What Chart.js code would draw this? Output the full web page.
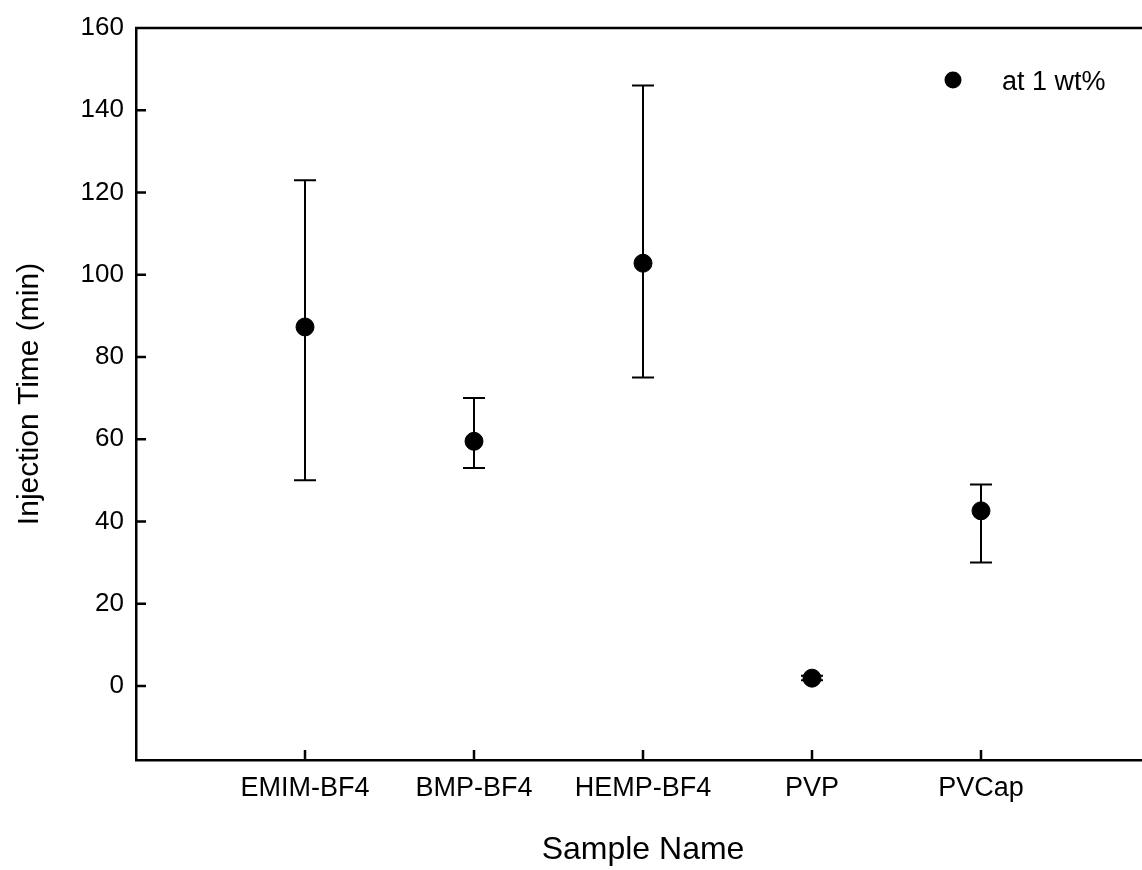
<!DOCTYPE html>
<html>
<head>
<meta charset="utf-8">
<script src="https://cdn.jsdelivr.net/npm/chart.js@4.4.1/dist/chart.umd.min.js"></script>
<style>
  html, body { margin:0; padding:0; background:#fff; overflow:hidden; }
  #wrap { width:1160px; height:870px; }
</style>
</head>
<body>
<div id="wrap"><canvas id="chart" width="1160" height="870"></canvas></div>
<script>
// data
const samples = ['EMIM-BF4', 'BMP-BF4', 'HEMP-BF4', 'PVP', 'PVCap'];
const injTime = [87.3, 59.5, 102.8, 1.9, 42.6];
const errLow  = [50, 53, 75, 1.4, 30];
const errHigh = [123, 70, 146, 2.5, 49];
const yTicks  = [0, 20, 40, 60, 80, 100, 120, 140, 160];
const seriesLabel = 'at 1 wt%';

const FONT = '"Liberation Sans", Arial, sans-serif';

const points = samples.map((s, i) => ({ x: i + 1, y: injTime[i] }));

// error bars, inward ticks, top frame line and legend
const extras = {
  id: 'extras',
  beforeDatasetsDraw(chart){
    const c = chart.ctx, xs = chart.scales.x, ys = chart.scales.y;
    c.save();
    c.strokeStyle = '#000';
    c.lineWidth = 2;
    samples.forEach((s, i) => {
      const px = xs.getPixelForValue(i + 1);
      const lo = ys.getPixelForValue(errLow[i]);
      const hi = ys.getPixelForValue(errHigh[i]);
      c.beginPath();
      c.moveTo(px, lo); c.lineTo(px, hi);
      c.moveTo(px - 11, lo); c.lineTo(px + 11, lo);
      c.moveTo(px - 11, hi); c.lineTo(px + 11, hi);
      c.stroke();
    });
    c.restore();
  },
  afterDraw(chart){
    const c = chart.ctx, xs = chart.scales.x, ys = chart.scales.y;
    const a = chart.chartArea;
    c.save();
    c.strokeStyle = '#000';
    c.lineWidth = 2.5;
    // top / right border
    c.beginPath();
    c.moveTo(a.left - 1, a.top); c.lineTo(a.right, a.top);
    c.moveTo(a.right, a.top); c.lineTo(a.right, a.bottom);
    c.stroke();
    // inward ticks
    c.beginPath();
    yTicks.forEach(v => {
      if (v >= 160) return;
      const py = ys.getPixelForValue(v);
      c.moveTo(a.left, py); c.lineTo(a.left + 10, py);
    });
    samples.forEach((s, i) => {
      const px = xs.getPixelForValue(i + 1);
      c.moveTo(px, a.bottom); c.lineTo(px, a.bottom - 10);
    });
    c.stroke();
    // legend
    c.fillStyle = '#000';
    c.beginPath();
    c.arc(953, 80, 8.5, 0, Math.PI * 2);
    c.fill();
    c.font = '27px ' + FONT;
    c.textBaseline = 'middle';
    c.textAlign = 'left';
    c.fillText(seriesLabel, 1002, 83);
    c.restore();
  }
};

new Chart(document.getElementById('chart'), {
  type: 'scatter',
  data: {
    datasets: [{
      label: seriesLabel,
      data: points,
      backgroundColor: '#000',
      borderColor: '#000',
      pointRadius: 9,
      pointHoverRadius: 9
    }]
  },
  options: {
    responsive: false,
    animation: false,
    events: [],
    layout: { padding: { top: 28, right: 9, left: 0, bottom: 0 } },
    plugins: { legend: { display: false }, tooltip: { enabled: false } },
    scales: {
      x: {
        type: 'linear',
        min: 0, max: 6,
        afterFit(scale){ scale.height = 110; },
        afterBuildTicks(scale){ scale.ticks = samples.map((s, i) => ({ value: i + 1 })); },
        grid: { display: false, drawTicks: false },
        border: { display: true, color: '#000', width: 2.5 },
        ticks: {
          color: '#000',
          font: { family: FONT, size: 27 },
          padding: 12,
          autoSkip: false,
          maxRotation: 0,
          callback: v => samples[v - 1]
        },
        title: {
          display: true,
          text: 'Sample Name',
          color: '#000',
          font: { family: FONT, size: 32 },
          padding: { top: 0, bottom: 1 }
        }
      },
      y: {
        min: -18, max: 160,
        afterFit(scale){ scale.width = 136; },
        afterBuildTicks(scale){ scale.ticks = yTicks.map(v => ({ value: v })); },
        grid: { display: false, drawTicks: false },
        border: { display: true, color: '#000', width: 2.5 },
        ticks: {
          color: '#000',
          font: { family: FONT, size: 26 },
          padding: 12
        },
        title: {
          display: true,
          text: 'Injection Time (min)',
          color: '#000',
          font: { family: FONT, size: 30 },
          padding: { top: 12, bottom: 0 }
        }
      }
    }
  },
  plugins: [extras]
});
</script>
</body>
</html>
